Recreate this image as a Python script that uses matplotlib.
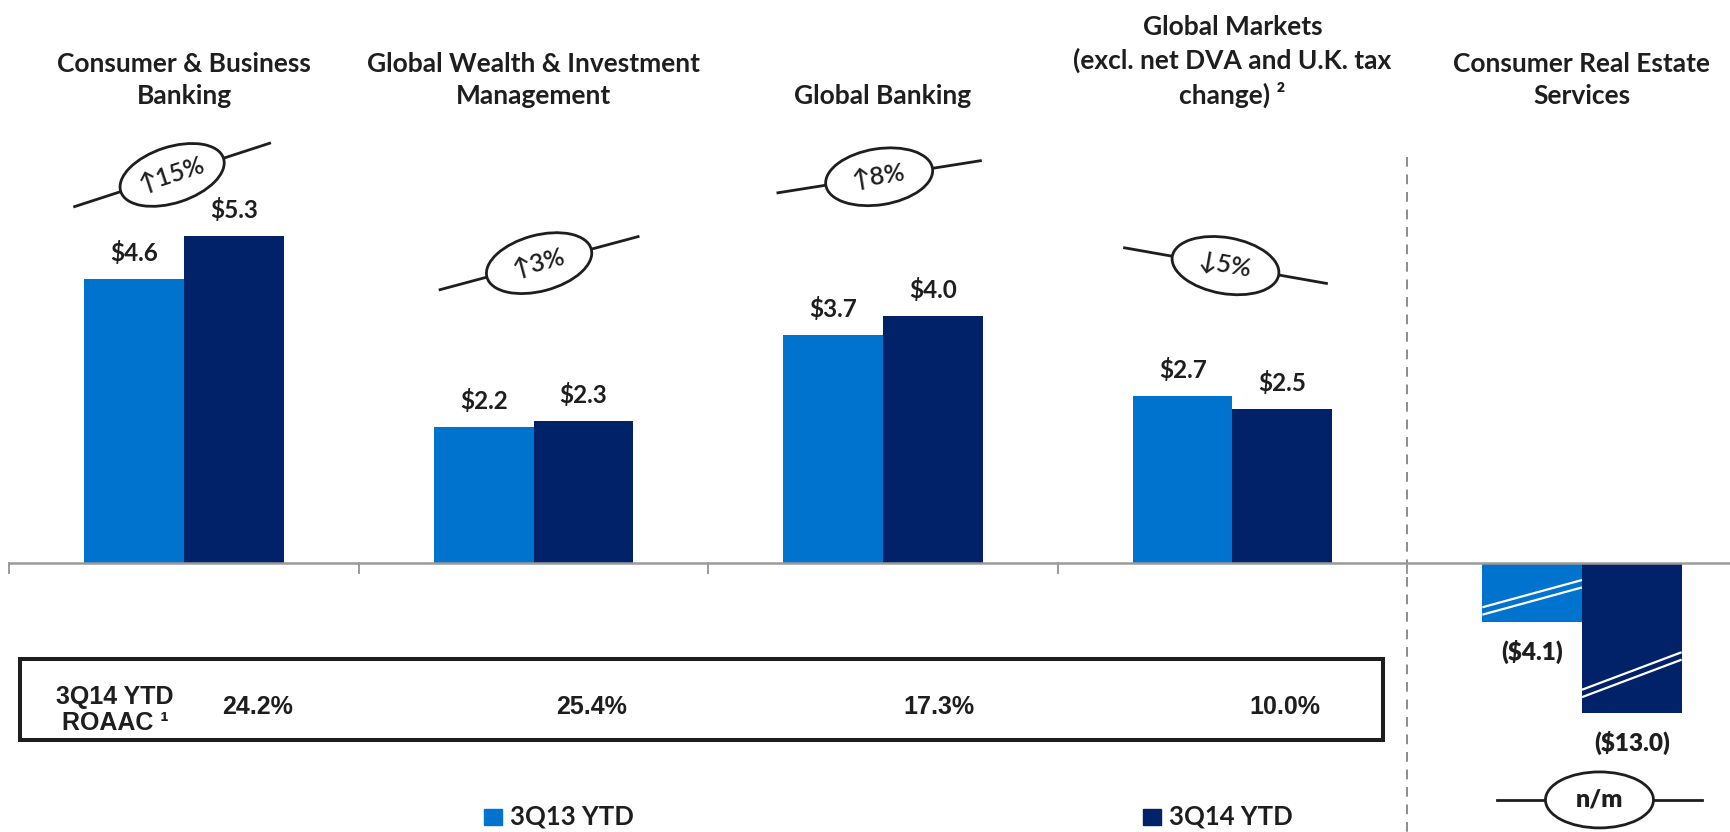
import matplotlib
matplotlib.use("Agg")
import matplotlib.pyplot as plt
from matplotlib.patches import Rectangle, Ellipse
from matplotlib.transforms import Affine2D, ScaledTranslation
import numpy as np

# ---------------- data ----------------
categories = ["Consumer & Business\nBanking",
              "Global Wealth & Investment\nManagement",
              "Global Banking",
              "Global Markets\n(excl. net DVA and U.K. tax\nchange) \u00b2",
              "Consumer Real Estate\nServices"]
series_names = ["3Q13 YTD", "3Q14 YTD"]
values_3q13 = [4.6, 2.2, 3.7, 2.7, -4.1]
values_3q14 = [5.3, 2.3, 4.0, 2.5, -13.0]
change_labels = ["\u219115%", "\u21913%", "\u21918%", "\u21935%", "n/m"]
roaac_labels = ["24.2%", "25.4%", "17.3%", "10.0%"]
roaac_title = "3Q14 YTD\nROAAC \u00b9"
# drawn (truncated, broken-axis) lengths of the CRES bars
cres_drawn = [-0.96, -2.43]

# ---------------- style ----------------
C13 = "#0073CF"
C14 = "#012169"
TXT = "#1e1e1e"
CAL = ["Lato", "DejaVu Sans"]
ARI = ["Liberation Sans", "DejaVu Sans"]
plt.rcParams['font.family'] = CAL

fig = plt.figure(figsize=(17.3, 8.32), dpi=100)
ax = fig.add_axes([0, 0, 1, 1])
ax.set_xlim(-0.5265, 4.4235)
ax.set_ylim(-4.36, 9.125)
ax.axis('off')
ax.autoscale(False)

n = len(categories)
x = np.arange(n)
w = 0.285
drawn13 = list(values_3q13[:4]) + [cres_drawn[0]]
drawn14 = list(values_3q14[:4]) + [cres_drawn[1]]

ax.bar(x - w / 2, drawn13, width=w, color=C13, zorder=2)
ax.bar(x + w / 2, drawn14, width=w, color=C14, zorder=2)

# value labels
def fmt(v):
    return f"(${abs(v):.1f})" if v < 0 else f"${v:.1f}"

for i in range(n):
    for xo, v, d in ((-w / 2, values_3q13[i], drawn13[i]), (w / 2, values_3q14[i], drawn14[i])):
        if v >= 0:
            ax.text(i + xo, d + 0.42, fmt(v), ha='center', va='center',
                    fontsize=17.5, fontweight='bold', color=TXT)
        else:
            ax.text(i + xo, d - 0.48, fmt(v), ha='center', va='center',
                    fontsize=17.5, fontweight='heavy', color=TXT)

# broken-bar marks (white double slashes)
for xc, d, fl, fr in ((4 - w / 2, cres_drawn[0], 0.81, 0.35), (4 + w / 2, cres_drawn[1], 0.87, 0.62)):
    for off in (0.0, 0.12):
        ax.plot([xc - w / 2, xc + w / 2], [d * fl - off + 0.06, d * fr - off + 0.06],
                color='white', lw=1.6, zorder=3, solid_capstyle='butt')

# baseline and ticks
ax.plot([-0.5, 4.4235], [0, 0], color='#9a9a9a', lw=1.8, zorder=3)
for b in [-0.5, 0.5, 1.5, 2.5, 3.5]:
    ax.plot([b, b], [0, -0.16], color='#9a9a9a', lw=1.4, zorder=3)

# dashed separator
ax.plot([3.5, 3.5], [6.58, -4.36], color='#8c8c8c', lw=1.4, ls=(0, (5, 4)), zorder=1)

# titles
for i, c in enumerate(categories):
    ax.text(i, 7.37, c, ha='center', va='bottom', fontsize=19, fontweight='bold',
            color=TXT, linespacing=1.4)

# change ovals
oval_x = [-0.034, 1.016, 1.989, 2.98, 4.05]
oval_y = [6.29, 4.86, 6.26, 4.82, -3.84]
oval_ang = [18, 15, 9, -10, 0]
L = 205
for i in range(n):
    tr = Affine2D() + ScaledTranslation(oval_x[i], oval_y[i], ax.transData)
    a = np.deg2rad(oval_ang[i])
    ax.plot([-L / 2 * np.cos(a), L / 2 * np.cos(a)], [-L / 2 * np.sin(a), L / 2 * np.sin(a)],
            color=TXT, lw=2.0, transform=tr, zorder=4)
    ax.add_patch(Ellipse((0, 0), 108, 56, angle=oval_ang[i], transform=tr,
                         fc='white', ec=TXT, lw=2.0, zorder=5))
    is_nm = (i == 4)
    ax.text(oval_x[i], oval_y[i], change_labels[i], rotation=oval_ang[i], rotation_mode='anchor',
            ha='center', va='center', fontsize=18, fontweight='heavy' if is_nm else 'semibold',
            color=TXT, zorder=6)

# ROAAC box
ax.add_patch(Rectangle((-0.469, -2.87), 3.9, 1.32, fill=False, ec=TXT, lw=2.9, zorder=4))
ax.text(-0.197, -2.38, roaac_title, ha='center', va='center', fontsize=18, fontweight='bold',
        color=TXT, family=ARI, linespacing=1.12)
roaac_off = [0.21, 0.165, 0.16, 0.15]
for i, lab in enumerate(roaac_labels):
    ax.text(i + roaac_off[i], -2.33, lab, ha='center', va='center', fontsize=18, fontweight='bold',
            color=TXT, family=ARI)

# legend
for sx, col, name in ((0.859, C13, series_names[0]), (2.744, C14, series_names[1])):
    ax.add_patch(Rectangle((sx, -4.25), 0.051, 0.26, color=col, zorder=4))
    ax.text(sx + 0.074, -4.11, name, ha='left', va='center', fontsize=18.5, fontweight='bold',
            color=TXT)

fig.savefig("out.png", dpi=100)
